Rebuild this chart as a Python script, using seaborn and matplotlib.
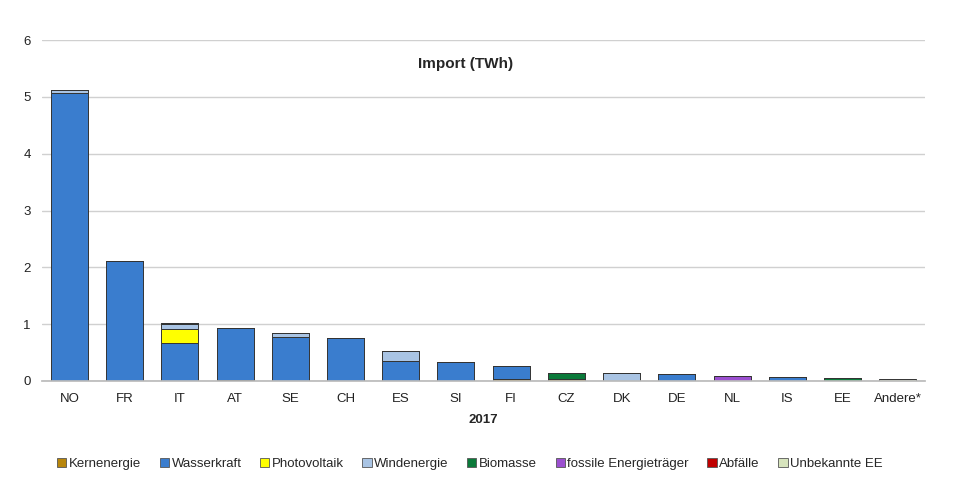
import numpy as np
import matplotlib
matplotlib.use("Agg")
import matplotlib.pyplot as plt
import seaborn as sns
from matplotlib.patches import Patch

# Import by country and source (TWh), 2017
countries = ['NO', 'FR', 'IT', 'AT', 'SE', 'CH', 'ES', 'SI', 'FI', 'CZ',
             'DK', 'DE', 'NL', 'IS', 'EE', 'Andere*']
kernenergie = [0, 0, 0, 0.01, 0, 0, 0, 0, 0.03, 0.03, 0, 0, 0, 0, 0, 0]
wasserkraft = [5.07, 2.11, 0.67, 0.92, 0.78, 0.75, 0.35, 0.34, 0.24, 0, 0, 0.12, 0, 0.07, 0, 0]
photovoltaik = [0, 0, 0.25, 0, 0, 0, 0, 0, 0, 0, 0, 0, 0, 0, 0, 0]
windenergie = [0.05, 0, 0.08, 0, 0.06, 0, 0.18, 0, 0, 0, 0.14, 0, 0, 0, 0, 0]
biomasse = [0, 0, 0.02, 0, 0, 0, 0, 0, 0, 0.11, 0, 0, 0, 0, 0.06, 0]
fossile = [0, 0, 0, 0, 0, 0, 0, 0, 0, 0, 0, 0, 0.08, 0, 0, 0]
abfaelle = [0] * 16
unbekannt = [0, 0, 0, 0, 0, 0, 0, 0, 0, 0, 0, 0, 0, 0, 0, 0.03]

series = [
    ('Kernenergie', kernenergie, '#b8860b'),
    ('Wasserkraft', wasserkraft, '#3a7dce'),
    ('Photovoltaik', photovoltaik, '#ffff00'),
    ('Windenergie', windenergie, '#a9c4e4'),
    ('Biomasse', biomasse, '#0b7a3a'),
    ('fossile Energieträger', fossile, '#9b4fd0'),
    ('Abfälle', abfaelle, '#c00000'),
    ('Unbekannte EE', unbekannt, '#d7e4bd'),
]

sns.set_theme(style="white")
plt.rcParams['font.family'] = ['Liberation Sans', 'DejaVu Sans']

fig = plt.figure(figsize=(9.73, 4.78), dpi=100)
ax = fig.add_axes([0.043, 0.203, 0.908, 0.713])

bottom = np.zeros(len(countries))
for name, vals, col in series:
    vals = np.array(vals, dtype=float)
    if vals.sum() > 0:
        sns.barplot(x=countries, y=vals, bottom=bottom, color=col, width=0.67,
                    edgecolor='#333333', linewidth=0.7, ax=ax, saturation=1)
    bottom += vals

ax.set_ylim(0, 6)
ax.set_xlim(-0.5, len(countries) - 0.5)
ax.set_yticks(range(7))
ax.yaxis.grid(True, color='#d0d0d0', linewidth=1)
ax.set_axisbelow(True)
for s in ['top', 'right', 'left']:
    ax.spines[s].set_visible(False)
ax.spines['bottom'].set_color('#bbbbbb')
ax.tick_params(axis='y', length=0, labelsize=9.5, colors='#222222', pad=8)
ax.tick_params(axis='x', length=0, labelsize=9.5, colors='#222222', pad=9)
ax.set_xticks(np.arange(-0.5, len(countries)), minor=True)
ax.tick_params(axis='x', which='minor', length=4, color='#bbbbbb', direction='out')

ax.set_title('Import (TWh)', fontsize=11, fontweight='bold', x=0.48, y=0.895)
ax.set_xlabel('2017', fontsize=9.5, fontweight='bold', labelpad=6)
ax.set_ylabel('')

handles = [Patch(facecolor=c, edgecolor='#555555', linewidth=0.6) for _, _, c in series]
labels = [n for n, _, _ in series]
fig.legend(handles, labels, loc='center', bbox_to_anchor=(0.483, 0.03), ncol=8,
           frameon=False, fontsize=9.5, handlelength=0.7, handleheight=0.7,
           handletextpad=0.2, columnspacing=1.4)

fig.savefig('out.png', dpi=100)
